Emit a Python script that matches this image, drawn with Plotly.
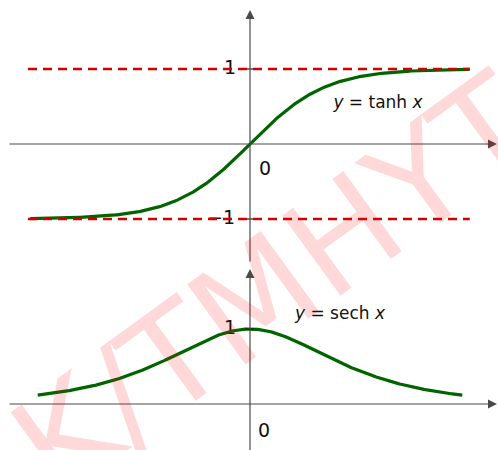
import numpy as np
import plotly.graph_objects as go

# ---- data -------------------------------------------------------------
tanh_domain = [-2.93, 2.93]
sech_domain = [-2.83, 2.83]
asymptotes = [1, -1]
tick_values = [1, -1]
tick_labels = ["1", "\u22121"]
curve_labels = ["<i>y</i> = tanh <i>x</i>", "<i>y</i> = sech <i>x</i>"]
watermark_text = "K/TMHYT"

xt = np.linspace(tanh_domain[0], tanh_domain[1], 300)
yt = np.tanh(xt)
xs = np.linspace(sech_domain[0], sech_domain[1], 300)
ys = 1.0 / np.cosh(xs)

# ---- styles -----------------------------------------------------------
GREEN = "rgb(0,100,0)"
RED = "rgb(210,0,0)"
AXIS = "#4a4a4a"
FONT = "DejaVu Sans"
U = 75.0  # pixels per unit
W, H = 498, 450
split = 265  # pixel row dividing the two panels

fig = go.Figure()

# tick labels and origin labels (top panel)
fig.add_trace(go.Scatter(
    x=[-20 / U, -29 / U], y=tick_values, mode="text", text=tick_labels,
    textposition="middle center", textfont=dict(size=19, color="#111", family=FONT),
    xaxis="x", yaxis="y", hoverinfo="skip", showlegend=False))
fig.add_trace(go.Scatter(
    x=[15 / U], y=[-26 / U], mode="text", text=["0"],
    textposition="middle center", textfont=dict(size=19, color="#111", family=FONT),
    xaxis="x", yaxis="y", hoverinfo="skip", showlegend=False))
# bottom panel labels
fig.add_trace(go.Scatter(
    x=[-20 / U, 14 / U], y=[1, -28 / U], mode="text", text=["1", "0"],
    textposition="middle center", textfont=dict(size=19, color="#111", family=FONT),
    xaxis="x2", yaxis="y2", hoverinfo="skip", showlegend=False))

# curve captions
fig.add_trace(go.Scatter(
    x=[128 / U], y=[40 / U], mode="text", text=[curve_labels[0]],
    textposition="middle center", textfont=dict(size=17, color="#111", family=FONT),
    xaxis="x", yaxis="y", hoverinfo="skip", showlegend=False))
fig.add_trace(go.Scatter(
    x=[90 / U], y=[89 / U], mode="text", text=[curve_labels[1]],
    textposition="middle center", textfont=dict(size=17, color="#111", family=FONT),
    xaxis="x2", yaxis="y2", hoverinfo="skip", showlegend=False))

# curves
fig.add_trace(go.Scatter(x=xt, y=yt, mode="lines", line=dict(color=GREEN, width=3.2),
                         xaxis="x", yaxis="y", hoverinfo="skip", showlegend=False))
fig.add_trace(go.Scatter(x=xs, y=ys, mode="lines", line=dict(color=GREEN, width=3.2),
                         xaxis="x2", yaxis="y2", hoverinfo="skip", showlegend=False))

# small tick marks on the vertical axes
for v in tick_values:
    fig.add_trace(go.Scatter(x=[-5 / U, 4 / U], y=[v, v], mode="lines",
                             line=dict(color="#222", width=1.2),
                             xaxis="x", yaxis="y", hoverinfo="skip", showlegend=False))
fig.add_trace(go.Scatter(x=[-5 / U, 4 / U], y=[1, 1], mode="lines",
                         line=dict(color="#222", width=1.2),
                         xaxis="x2", yaxis="y2", hoverinfo="skip", showlegend=False))

# horizontal asymptotes
for a in asymptotes:
    fig.add_trace(go.Scatter(x=[-2.96, 2.93], y=[a, a], mode="lines",
                             line=dict(color=RED, width=2.5, dash="9px,6px"),
                             xaxis="x", yaxis="y", hoverinfo="skip", showlegend=False))

# axes with arrowheads
def arrow(xref, yref, x0, y0, x1, y1):
    return dict(x=x1, y=y1, ax=x0, ay=y0, xref=xref, yref=yref,
                axref=xref, ayref=yref, text="", showarrow=True,
                arrowhead=2, arrowsize=1.5, arrowwidth=1.2, arrowcolor=AXIS)

annotations = [
    arrow("x", "y", -242 / U, 0, 247 / U, 0),
    arrow("x", "y", 0, -119 / U, 0, 134 / U),
    arrow("x2", "y2", -242 / U, 0, 247 / U, 0),
    arrow("x2", "y2", 0, -50 / U, 0, 135 / U),
]

# watermark on top of everything
annotations.append(dict(
    x=275 / W, y=1 - 285 / H, xref="paper", yref="paper", text=watermark_text,
    showarrow=False, textangle=-36,
    font=dict(size=136, color="rgba(255,0,0,0.15)", family="DejaVu Sans"),
    xanchor="center", yanchor="middle"))

top_frac = 1 - split / H
fig.update_layout(
    width=W, height=H, margin=dict(l=0, r=0, t=0, b=0),
    paper_bgcolor="white", plot_bgcolor="white",
    xaxis=dict(domain=[0, 1], range=[-250 / U, 248 / U], visible=False, anchor="y"),
    yaxis=dict(domain=[top_frac, 1], range=[-(split - 144) / U, 144 / U],
               visible=False, anchor="x"),
    xaxis2=dict(domain=[0, 1], range=[-250 / U, 248 / U], visible=False, anchor="y2",
                matches="x"),
    yaxis2=dict(domain=[0, top_frac], range=[-(H - 404) / U, (404 - split) / U],
                visible=False, anchor="x2"),
    annotations=annotations,
)

fig.write_html("out.html")
